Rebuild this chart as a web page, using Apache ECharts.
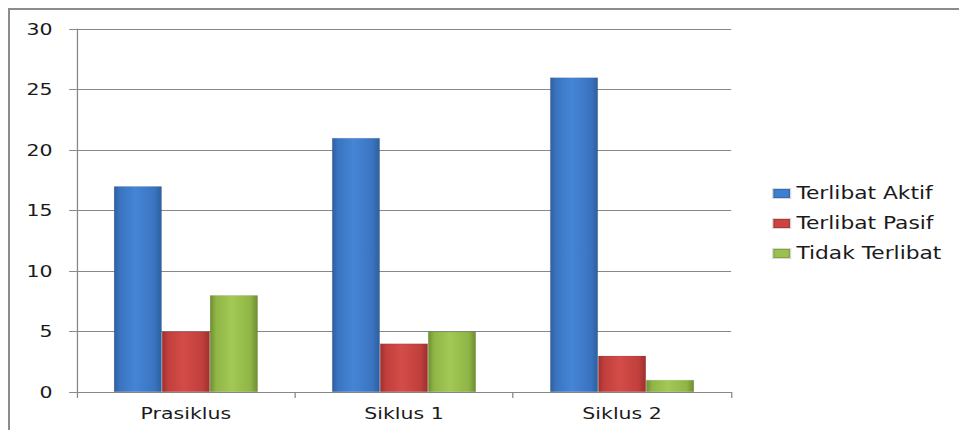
<!DOCTYPE html>
<html><head><meta charset="utf-8">
<script src="https://cdn.jsdelivr.net/npm/echarts@6/dist/echarts.min.js"></script>
<style>
html,body{margin:0;padding:0;background:#fff;overflow:hidden;}
#wrap{position:relative;width:959px;height:430px;overflow:hidden;}
#frame{position:absolute;left:8px;top:8px;right:-4px;bottom:-4px;border-left:2px solid #8c8c8c;border-top:2px solid #8c8c8c;pointer-events:none;}
#c{position:absolute;left:0;top:0;width:749px;height:430px;transform:scaleX(1.2804);transform-origin:0 0;}
</style></head>
<body><div id="wrap"><div id="c"></div><div id="frame"></div></div>
<script>
const categories = ['Prasiklus', 'Siklus 1', 'Siklus 2'];
const terlibatAktif = [17, 21, 26];
const terlibatPasif = [5, 4, 3];
const tidakTerlibat = [8, 5, 1];
const yTicks = [0, 5, 10, 15, 20, 25, 30];
const seriesNames = ['Terlibat Aktif', 'Terlibat Pasif', 'Tidak Terlibat'];

function grad(dark, mid, light) {
  return new echarts.graphic.LinearGradient(0, 0, 1, 0, [
    {offset: 0, color: dark},
    {offset: 0.12, color: mid},
    {offset: 0.45, color: light},
    {offset: 0.85, color: mid},
    {offset: 1, color: dark}
  ]);
}
const fills = [
  grad('#2d5f9f', '#3a74c0', '#4585d6'),
  grad('#9e2f2d', '#c03f3c', '#d44c48'),
  grad('#6f8e2e', '#8fb546', '#a2c855')
];
const flat = ['#3f7fd0', '#cc4441', '#9bc04e'];
const font = 'DejaVu Sans';
const chart = echarts.init(document.getElementById('c'), null, {renderer: 'svg'});
function mk(i, data) {
  return {
    name: seriesNames[i], type: 'bar', data, barWidth: 37.5, barGap: '0%',
    itemStyle: {color: fills[i], borderColor: 'rgba(0,0,0,0.15)', borderWidth: 0.5},
    emphasis: {disabled: true}
  };
}
chart.setOption({
  animation: false,
  color: flat,
  grid: {left: 60, right: 178, top: 29, bottom: 38},
  legend: {
    orient: 'vertical', left: 598, top: 180, itemGap: 13,
    itemWidth: 13, itemHeight: 9, icon: 'rect',
    textStyle: {fontFamily: font, fontSize: 17, color: '#1a1a1a'},
    data: seriesNames.map((n, i) => ({name: n, itemStyle: {color: flat[i]}}))
  },
  xAxis: {
    type: 'category', data: categories,
    axisLine: {lineStyle: {color: '#888', width: 1}},
    axisTick: {show: true, length: 6, lineStyle: {color: '#888'}},
    axisLabel: {fontFamily: font, fontSize: 16, color: '#1a1a1a', margin: 13}
  },
  yAxis: {
    type: 'value', min: 0, max: 30, interval: 5,
    axisLine: {show: true, lineStyle: {color: '#888'}},
    axisTick: {show: true, length: 6, lineStyle: {color: '#888'}},
    splitLine: {lineStyle: {color: '#888'}},
    axisLabel: {fontFamily: font, fontSize: 16, color: '#1a1a1a', margin: 19,
      formatter: v => yTicks.includes(v) ? String(v) : ''}
  },
  series: [
    mk(0, terlibatAktif),
    mk(1, terlibatPasif),
    mk(2, tidakTerlibat)
  ]
});
</script></body></html>
